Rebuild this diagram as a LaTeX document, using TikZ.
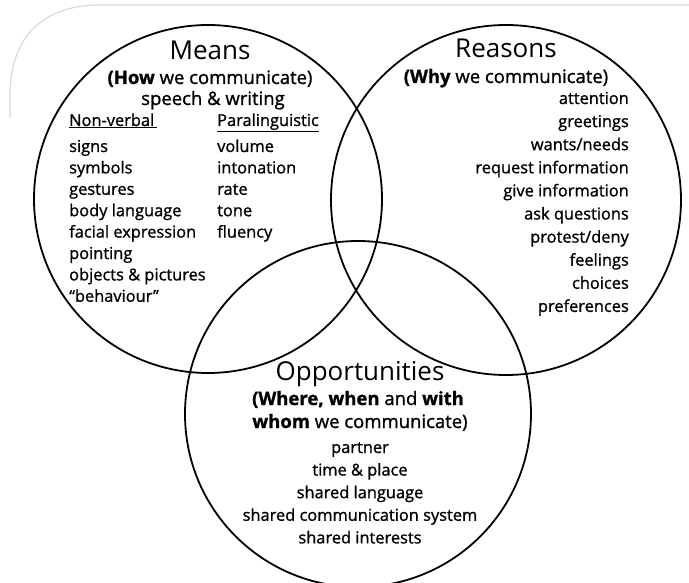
\documentclass[tikz,border=0pt]{standalone}
\usepackage{fontspec}
\setmainfont{Open Sans}
\newfontfamily\heavyfont{Open Sans}[FakeBold=1.1]
\usepackage{tikz}
\usetikzlibrary{positioning}

\begin{document}
\begin{tikzpicture}[x=1pt, y=-1pt,
	venn/.style={circle, draw, line width=1.8pt, inner sep=0pt, minimum size=#1},
	title/.style={font=\fontsize{26}{30}\selectfont, inner sep=0pt, anchor=base},
	sub/.style={font=\heavyfont\fontsize{18.5}{22}\selectfont, inner sep=0pt, anchor=base},
	item/.style={font=\heavyfont\fontsize{16.4}{20}\selectfont, inner sep=0pt}]
		\useasboundingbox (0,0) rectangle (689,583);

		% card edge
		\draw [gray!30, line width=1.2pt] (10,118) -- (10,95) .. controls (10,40) and (40,5) .. (100,5) -- (689,5);

		% The three circles
		\node (C_M) at (208,199) [venn=348pt] {};
		\node (C_R) at (506,200) [venn=350pt] {};
		\node (C_O) at (358,414) [venn=346pt] {};

		% Means
		\node (T_M) at (210,60) [title] {Means};
		\node (S_M) at (210,84) [sub] {{\bfseries (How} we communicate)};
		\node (S_M2) at (213,105) [sub] {speech \& writing};
		\node (H_NV) at (69,126) [item, anchor=base west] {\underline{Non-verbal\,}};
		\node (H_PL) at (217,126) [item, anchor=base west] {\underline{Paralinguistic}};
		\foreach \t [count=\i from 0] in {signs,symbols,gestures,body language,facial expression,pointing,objects \& pictures,“behaviour”}
			\node (NV_\i) at (69,152+21.4*\i) [item, anchor=base west] {\t};
		\foreach \t [count=\i from 0] in {volume,intonation,rate,tone,fluency}
			\node (PL_\i) at (217,152+21.4*\i) [item, anchor=base west] {\t};

		% Reasons
		\node (T_R) at (506,58) [title] {Reasons};
		\node (S_R) at (506,83) [sub] {{\bfseries (Why} we communicate)};
		\foreach \t [count=\i from 0] in {attention,greetings,wants/needs,request information,give information,ask questions,protest/deny,feelings,choices,preferences}
			\node (RS_\i) at (629,104+23.1*\i) [item, anchor=base east] {\t};

		% Opportunities
		\node (T_O) at (360,380) [title] {Opportunities};
		\node (S_O) at (358,405) [sub] {{\bfseries (Where, when} and {\bfseries with}};
		\node (S_O2) at (360,428) [sub] {{\bfseries whom} we communicate)};
		\foreach \t [count=\i from 0] in {partner,time \& place,shared language,shared communication system,shared interests}
			\node (OP_\i) at (360,453+22.6*\i) [item, anchor=base] {\t};
\end{tikzpicture}
\end{document}
